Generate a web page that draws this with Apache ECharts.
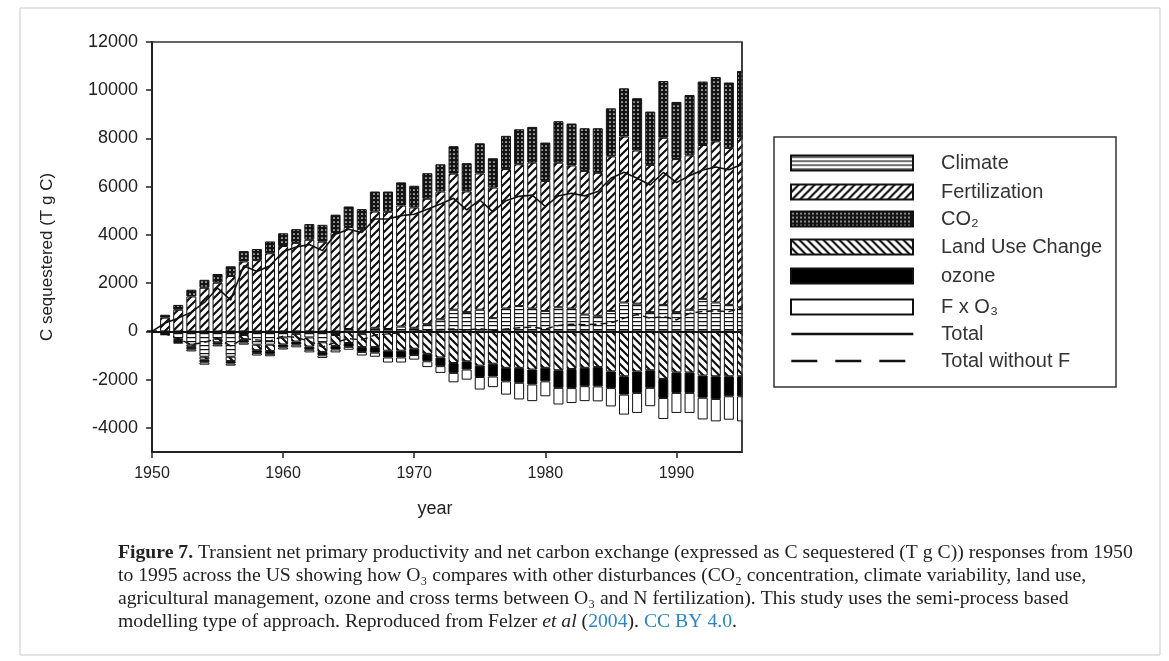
<!DOCTYPE html>
<html><head><meta charset="utf-8">
<script src="https://cdn.jsdelivr.net/npm/echarts@6/dist/echarts.min.js"></script>
<style>html,body{margin:0;padding:0;background:#fff}#c{width:1169px;height:661px}</style>
</head><body><div id="c"></div>
<script>
// ---- data ----
const years = [1950,1951,1952,1953,1954,1955,1956,1957,1958,1959,1960,1961,1962,1963,1964,1965,1966,1967,1968,1969,1970,1971,1972,1973,1974,1975,1976,1977,1978,1979,1980,1981,1982,1983,1984,1985,1986,1987,1988,1989,1990,1991,1992,1993,1994,1995];
const climate = [0,-60,-300,-550,-1050,-300,-1050,-150,-550,-550,-250,-100,-250,-450,-150,100,-100,150,100,200,150,300,500,900,800,900,550,950,1050,950,850,1000,950,700,650,850,1200,1150,800,1100,800,900,1350,1200,1100,1000];
const fertilization = [0,570,900,1450,1810,2020,2300,2900,2955,3240,3540,3670,3800,3720,4120,4230,4240,4820,4860,5020,4990,5200,5300,5640,5005,5650,5415,5780,5880,6050,5390,5995,5930,5955,5925,6410,6880,6350,6105,6930,6345,6400,6380,6680,6510,7040];
const co2 = [0,120,200,280,330,360,400,430,460,490,530,570,650,700,720,850,830,830,840,960,900,1060,1130,1140,1170,1250,1215,1380,1450,1480,1590,1720,1740,1770,1850,1990,2000,2170,2210,2350,2370,2500,2630,2670,2710,2760];
const landUse = [0,-30,-60,-90,-120,-150,-180,-200,-230,-260,-290,-320,-380,-400,-450,-480,-550,-650,-800,-800,-720,-930,-1080,-1310,-1240,-1420,-1340,-1510,-1510,-1580,-1510,-1610,-1560,-1510,-1480,-1660,-1860,-1660,-1610,-1970,-1700,-1700,-1830,-1860,-1860,-1860];
const ozone = [0,-30,-80,-100,-110,-90,-100,-110,-120,-120,-120,-130,-130,-140,-150,-160,-200,-230,-280,-280,-260,-310,-360,-410,-340,-470,-530,-560,-620,-620,-560,-730,-790,-760,-800,-690,-760,-890,-730,-790,-850,-850,-920,-940,-830,-830];
const fxo3 = [0,-30,-70,-90,-100,-80,-90,-90,-100,-100,-90,-110,-110,-110,-120,-120,-150,-170,-210,-210,-190,-240,-280,-390,-420,-520,-440,-550,-690,-690,-620,-690,-620,-620,-620,-760,-830,-830,-760,-870,-830,-830,-900,-930,-970,-1040];
const total = [0,350,550,800,1200,1800,1300,2720,2480,2720,3300,3500,3600,3350,4030,4240,4100,4660,4660,4800,4860,5070,5280,5520,5040,5450,4960,5420,5600,5650,5180,5620,5730,5620,5800,6350,6600,6350,6070,6590,6175,6450,6690,6820,6700,6930];
const totalNoF = [0,-100,-300,-550,-450,-300,-600,-300,-350,-400,-200,-250,-400,-650,-450,-300,-350,-150,-100,-50,0,50,80,100,50,120,20,100,150,180,100,250,300,280,300,350,550,700,550,620,480,750,830,850,820,970];
const xTicks = [1950,1960,1970,1980,1990];
const yTicks = [-4000,-2000,0,2000,4000,6000,8000,10000,12000];
const seriesNames = ['Climate','Fertilization','CO₂','Land Use Change','ozone','F x O₃','Total','Total without F'];

// ---- patterns ----
function pat(w,h,draw){const c=document.createElement('canvas');c.width=w;c.height=h;const g=c.getContext('2d');draw(g,w,h);return {image:c,repeat:'repeat'};}
const pClimate = pat(8,4,(g,w,h)=>{g.fillStyle='#fff';g.fillRect(0,0,w,h);g.fillStyle='#111';g.fillRect(0,1,w,1.2);});
const pFert = pat(8,8,(g,w,h)=>{g.fillStyle='#fff';g.fillRect(0,0,w,h);g.strokeStyle='#111';g.lineWidth=2.2;g.beginPath();g.moveTo(0,h);g.lineTo(w,0);g.moveTo(-2,2);g.lineTo(2,-2);g.moveTo(w-2,h+2);g.lineTo(w+2,h-2);g.stroke();});
const pLand = pat(8,8,(g,w,h)=>{g.fillStyle='#fff';g.fillRect(0,0,w,h);g.strokeStyle='#111';g.lineWidth=2.2;g.beginPath();g.moveTo(0,0);g.lineTo(w,h);g.moveTo(-2,h-2);g.lineTo(2,h+2);g.moveTo(w-2,-2);g.lineTo(w+2,2);g.stroke();});
const pCO2 = pat(4,4,(g,w,h)=>{g.fillStyle='#141414';g.fillRect(0,0,w,h);g.fillStyle='#fff';g.beginPath();g.arc(2,2,0.85,0,Math.PI*2);g.fill();});

const font = 'Liberation Sans, Arial, sans-serif';

function barSeries(name, arr, color, extra){
  return Object.assign({
    name, type:'bar', stack:'all', barWidth:10, clip:true, data:arr,
    itemStyle:{color, borderColor:'#111', borderWidth:1},
    emphasis:{disabled:true}
  }, extra||{});
}

const legendCenters = [163,192,219,247,276,307,334,361];
const legends = seriesNames.map((n,i)=>({
  data:[n], left:790, top:legendCenters[i]-10, padding:0, selectedMode:false,
  itemWidth:122, itemHeight:15,
  icon: i<6 ? 'rect' : undefined,
  itemStyle: i<6 ? {} : {opacity:0},
  lineStyle: i===7 ? {width:2.6, type:[26,18]} : {width:2.6},
  textStyle:{fontFamily:font, fontSize:20, color:'#333', padding:[0,0,0,23]}
}));

const caption = [
  '{b|Figure 7.} Transient net primary productivity and net carbon exchange (expressed as C sequestered (T g C)) responses from 1950',
  'to 1995 across the US showing how O₃ compares with other disturbances (CO₂ concentration, climate variability, land use,',
  'agricultural management, ozone and cross terms between O₃ and N fertilization). This study uses the semi-process based',
  'modelling type of approach. Reproduced from Felzer {i|et al} ({l|2004}). {l|CC BY 4.0}.'
].join('\n');
const cf = 19.7;

const isTick = (i, v) => xTicks.indexOf(+v) >= 0;

// plot frame geometry (used for the right-edge mask so the half bar at 1995 is cut like the original)
const G = {left:152, right:427, top:42, bottom:209};
const frameRight = 1169 - G.right;

const chart = echarts.init(document.getElementById('c'), null, {renderer:'canvas'});
chart.setOption({
  animation:false,
  backgroundColor:'#fff',
  grid:{left:G.left, right:G.right, top:G.top, bottom:G.bottom, show:true, borderColor:'#333', borderWidth:1.5, backgroundColor:'transparent'},
  xAxis:{type:'category', data:years.map(String), boundaryGap:false,
    name:'year', nameLocation:'middle', nameGap:48,
    nameTextStyle:{fontFamily:font, fontSize:18, color:'#222', padding:[0,24,0,0]},
    axisLine:{onZero:false, lineStyle:{color:'#222', width:2}},
    axisTick:{show:true, length:6, interval:isTick, lineStyle:{color:'#222', width:1.5}},
    axisLabel:{fontFamily:font, fontSize:16, color:'#222', margin:14, interval:isTick},
    splitLine:{show:false}},
  yAxis:{type:'value', min:-5000, max:12000, interval:1000,
    name:'C sequestered (T g C)', nameLocation:'middle', nameRotate:90, nameGap:96,
    nameTextStyle:{fontFamily:font, fontSize:17, color:'#222', padding:[0,20,0,0]},
    axisLine:{show:true, lineStyle:{color:'#222', width:2}},
    axisTick:{show:true, length:6, lineStyle:{color:'#222', width:1.5}, customValues:yTicks},
    axisLabel:{fontFamily:font, fontSize:18, color:'#222', margin:14, customValues:yTicks, formatter:v=>String(v)},
    splitLine:{show:false}},
  legend: legends,
  series:[
    barSeries('Climate', climate, pClimate, {markLine:{silent:true, symbol:'none', label:{show:false}, lineStyle:{color:'#111', width:2, type:'solid'}, data:[{yAxis:0}], z:5}}),
    barSeries('Fertilization', fertilization, pFert),
    barSeries('CO₂', co2, pCO2),
    barSeries('Land Use Change', landUse, pLand),
    barSeries('ozone', ozone, '#000'),
    barSeries('F x O₃', fxo3, '#fff'),
    {name:'Total', type:'line', data:total, symbol:'none', z:10, color:'#111', lineStyle:{color:'#111', width:1.6}},
    {name:'Total without F', type:'line', data:totalNoF, symbol:'none', z:10, color:'#111', lineStyle:{color:'#111', width:1.4, type:[7,4]}}
  ],
  graphic:[
    {type:'rect', z:100, shape:{x:frameRight+1, y:G.top-4, width:24, height:661-G.top-G.bottom+8}, style:{fill:'#fff'}, silent:true},
    {type:'line', z:101, shape:{x1:frameRight, y1:G.top, x2:frameRight, y2:661-G.bottom}, style:{stroke:'#333', lineWidth:1.5}, silent:true},
    {type:'rect', shape:{x:20, y:8, width:1140, height:647}, style:{fill:'none', stroke:'#c8c8c8', lineWidth:1}, silent:true},
    {type:'rect', shape:{x:774, y:137, width:342, height:250}, style:{fill:'none', stroke:'#333', lineWidth:1.5}, silent:true},
    {type:'text', left:118, top:541, silent:true, style:{text:caption, font:cf+'px "Liberation Serif", serif', fill:'#222', lineHeight:23,
      rich:{b:{fontWeight:'bold', fontFamily:'Liberation Serif', fontSize:cf, lineHeight:23, fill:'#222'},
            i:{fontStyle:'italic', fontFamily:'Liberation Serif', fontSize:cf, lineHeight:23, fill:'#222'},
            l:{fontFamily:'Liberation Serif', fontSize:cf, lineHeight:23, fill:'#2a86c6'}}}}
  ]
});
</script></body></html>
